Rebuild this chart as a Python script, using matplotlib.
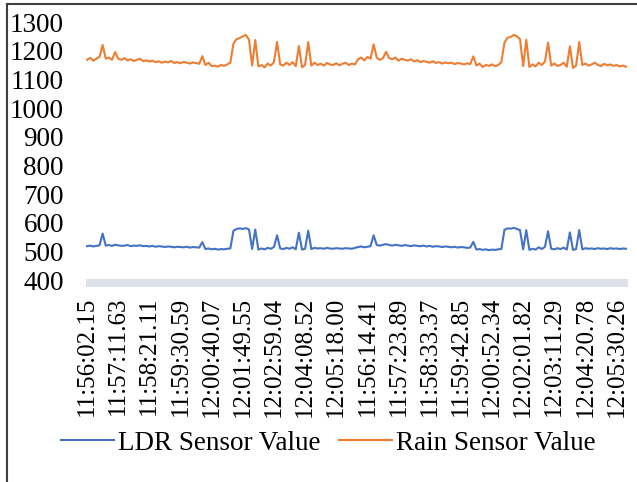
import matplotlib
matplotlib.use("Agg")
import matplotlib.pyplot as plt
from matplotlib.lines import Line2D

# LDR and rain sensor readings, two logging sessions back to back
ldr_session1 = [518, 520, 517, 519, 521, 562, 520, 522, 519, 523,
                521, 519, 520, 522, 518, 520, 519, 521, 518, 519,
                517, 519, 516, 518, 517, 515, 517, 516, 514, 516,
                515, 514, 516, 513, 515, 514, 513, 532,
                508, 510, 507, 509, 506, 508, 507, 509, 510,
                572, 578, 580, 578, 581, 576,
                508, 576, 506, 510, 507, 512, 509, 515,
                556, 510, 508, 512, 509, 514, 507,
                565, 506, 509, 572, 508,
                512, 510, 511, 509, 512, 510, 509, 511, 510, 509, 511, 510, 509, 512]
ldr_session2 = [515, 517, 514, 516, 518, 556, 522, 520, 523, 525,
                522, 520, 523, 521, 519, 522, 520, 518, 521, 519,
                518, 520, 517, 519, 516, 518, 517, 515, 517, 516,
                514, 516, 513, 515, 514, 512, 513, 533,
                506, 508, 505, 507, 504, 506, 505, 507, 508,
                575, 580, 579, 582, 578, 574,
                507, 574, 505, 509, 506, 514, 508, 516,
                570, 509, 507, 511, 508, 513, 506,
                566, 505, 508, 574, 507,
                511, 509, 510, 508, 511, 509, 510, 508, 511, 509, 510, 508, 510, 509]

rain_session1 = [1168, 1175, 1165, 1172, 1178, 1220, 1172, 1176, 1168, 1195,
                 1172, 1168, 1174, 1166, 1170, 1164, 1168, 1172, 1163, 1166,
                 1162, 1165, 1160, 1163, 1158, 1162, 1159, 1164, 1157, 1160,
                 1156, 1161, 1158, 1155, 1159, 1157, 1154, 1181,
                 1150, 1158, 1146, 1148, 1144, 1150, 1147, 1152, 1158,
                 1225, 1240, 1244, 1250, 1255, 1238,
                 1148, 1237, 1145, 1150, 1142, 1155, 1148, 1160,
                 1230, 1152, 1148, 1158, 1150, 1160, 1146,
                 1216, 1142, 1150, 1230, 1148,
                 1158, 1150, 1155, 1148, 1157, 1152, 1150, 1156, 1149, 1154, 1158, 1150, 1155, 1152]
rain_session2 = [1170, 1176, 1166, 1178, 1172, 1222, 1175, 1168, 1174, 1196,
                 1174, 1170, 1176, 1165, 1172, 1168, 1165, 1170, 1162, 1167,
                 1160, 1164, 1161, 1158, 1163, 1157, 1160, 1155, 1159, 1156,
                 1158, 1153, 1157, 1155, 1152, 1156, 1153, 1180,
                 1148, 1155, 1143, 1150, 1147, 1152, 1146, 1150, 1160,
                 1228, 1245, 1248, 1255, 1250, 1240,
                 1146, 1238, 1143, 1152, 1145, 1158, 1150, 1162,
                 1228, 1148, 1155, 1147, 1150, 1158, 1144,
                 1215, 1140, 1148, 1230, 1150,
                 1155, 1148, 1152, 1158, 1150, 1146, 1154, 1149, 1152, 1147, 1150, 1145, 1148, 1144]

ldr = ldr_session1 + ldr_session2
rain = rain_session1 + rain_session2

# every 10th timestamp is labelled on the category axis
tick_labels = ["11:56:02.15", "11:57:11.63", "11:58:21.11", "11:59:30.59", "12:00:40.07",
               "12:01:49.55", "12:02:59.04", "12:04:08.52", "12:05:18.00", "11:56:14.41",
               "11:57:23.89", "11:58:33.37", "11:59:42.85", "12:00:52.34", "12:02:01.82",
               "12:03:11.29", "12:04:20.78", "12:05:30.26"]
tick_step = 10
y_ticks = [400, 500, 600, 700, 800, 900, 1000, 1100, 1200, 1300]

plt.rcParams['font.family'] = ['Liberation Serif', 'DejaVu Serif']

W, H = 637, 482
fig = plt.figure(figsize=(W / 100, H / 100), dpi=100)
ax = fig.add_axes([85.5 / W, 1 - 288.6 / H, (627.5 - 85.5) / W, (288.6 - 22) / H])

x = list(range(len(ldr)))
ax.plot(x, ldr, color='#4472C4', lw=1.5, label='LDR Sensor Value')
ax.plot(x, rain, color='#ED7D31', lw=1.5, label='Rain Sensor Value')

# thick light axis band along the bottom
ax.axhspan(376, 403, color='#DDE1E9', lw=0, zorder=0)

ax.set_xlim(-0.5, len(ldr) - 0.5)
ax.set_ylim(370, 1300)
ax.set_yticks(y_ticks)
ax.set_yticklabels([str(v) for v in y_ticks], fontsize=19.5)
ax.set_xticks(list(range(0, len(tick_labels) * tick_step, tick_step)))
ax.set_xticklabels(tick_labels, rotation=90, fontsize=18)
ax.tick_params(axis='y', length=0, pad=15.5)
ax.tick_params(axis='x', length=0, pad=6)
for s in ax.spines.values():
    s.set_visible(False)

fig.legend(loc='center', bbox_to_anchor=(328 / W, 1 - 443 / H), ncol=2, frameon=False,
           fontsize=19.5, handlelength=1.96, handletextpad=0.15, columnspacing=0.67,
           borderpad=0, borderaxespad=0)

# outer chart border (only left and top visible in the crop)
fig.add_artist(Line2D([7 / W, 7 / W], [0, 1 - 4 / H], color='#404040', lw=1.5))
fig.add_artist(Line2D([7 / W, 1], [1 - 4 / H, 1 - 4 / H], color='#404040', lw=1.5))

fig.savefig('out.png', dpi=100)
